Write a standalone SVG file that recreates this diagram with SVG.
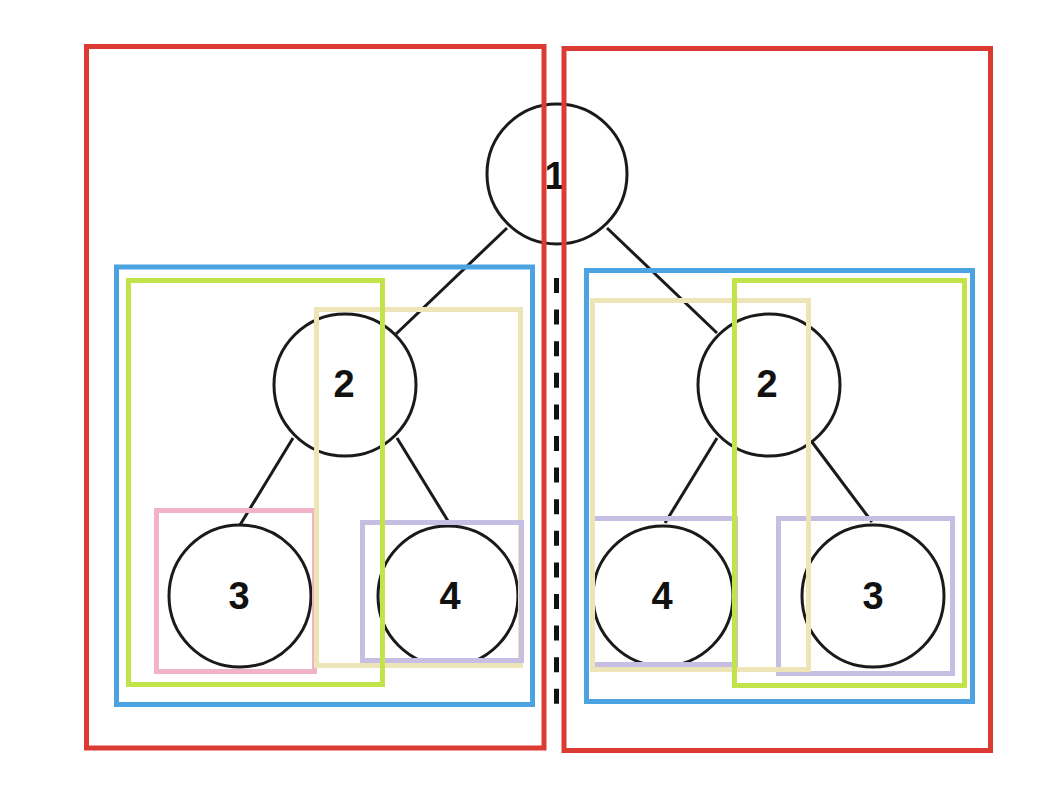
<svg xmlns="http://www.w3.org/2000/svg" width="1064" height="790" viewBox="0 0 1064 790">
<style>
.edge{stroke:#1a1a1a;stroke-width:3;fill:none}
.node circle{fill:#ffffff;stroke:#1a1a1a;stroke-width:3}
.node text{font-family:"Liberation Sans",Arial,sans-serif;font-weight:bold;font-size:38px;fill:#111;text-anchor:middle;dominant-baseline:central}
.box{fill:none;stroke-width:5}
.red{stroke:#dc3b33}
.blue{stroke:#4ba3e1}
.green{stroke:#c3e34b}
.tan{stroke:#ede5b8}
.pink{stroke:#f2b2c7}
.lav{stroke:#c7bfe3}
.dash{stroke:#111;stroke-width:5;stroke-dasharray:15 16.6;fill:none}
</style>
<rect width="1064" height="790" fill="#ffffff"/>
<g id="connectors">
<line class="edge" x1="507" y1="228" x2="396" y2="334"/>
<line class="edge" x1="607" y1="228" x2="717" y2="333"/>
<line class="edge" x1="293" y1="438" x2="240" y2="525"/>
<line class="edge" x1="397" y1="438" x2="448" y2="521"/>
<line class="edge" x1="717" y1="438" x2="665" y2="523"/>
<line class="edge" x1="812" y1="442" x2="872" y2="522"/>
</g>
<g id="n1" class="node"><circle cx="557" cy="174" r="70"/><text x="555" y="176">1</text></g>
<g id="n2L" class="node"><circle cx="345" cy="385" r="71"/><text x="344" y="384">2</text></g>
<g id="n3L" class="node"><circle cx="240" cy="596" r="71"/><text x="239" y="596">3</text></g>
<g id="n4L" class="node"><circle cx="448" cy="596" r="70"/><text x="450" y="596">4</text></g>
<g id="n2R" class="node"><circle cx="769" cy="385" r="71"/><text x="767" y="384">2</text></g>
<g id="n4R" class="node"><circle cx="663" cy="596" r="70"/><text x="662" y="596">4</text></g>
<g id="n3R" class="node"><circle cx="873" cy="596" r="71"/><text x="873" y="596">3</text></g>
<g id="frames">
<rect class="box pink" x="156.5" y="510.5" width="158" height="161"/>
<rect class="box tan" x="316.5" y="309.5" width="204" height="356"/>
<rect class="box lav" x="362.5" y="522.5" width="159" height="138"/>
<rect class="box green" x="128.5" y="280.5" width="254" height="404"/>
<rect class="box blue" x="116.5" y="267" width="416" height="437.5"/>
<rect class="box lav" x="592.5" y="518.5" width="143" height="146"/>
<rect class="box lav" x="778.5" y="518.5" width="174" height="155"/>
<rect class="box tan" x="592.5" y="300.5" width="216" height="369"/>
<rect class="box green" x="734.5" y="280.5" width="230" height="405"/>
<rect class="box blue" x="586.5" y="270.5" width="386" height="431"/>
<rect class="box red" x="86.5" y="46.5" width="457.5" height="701.5"/>
<rect class="box red" x="564" y="48.5" width="426.5" height="702"/>
</g>
<line id="divider" class="dash" x1="556.5" y1="278" x2="556.5" y2="707"/>
</svg>
